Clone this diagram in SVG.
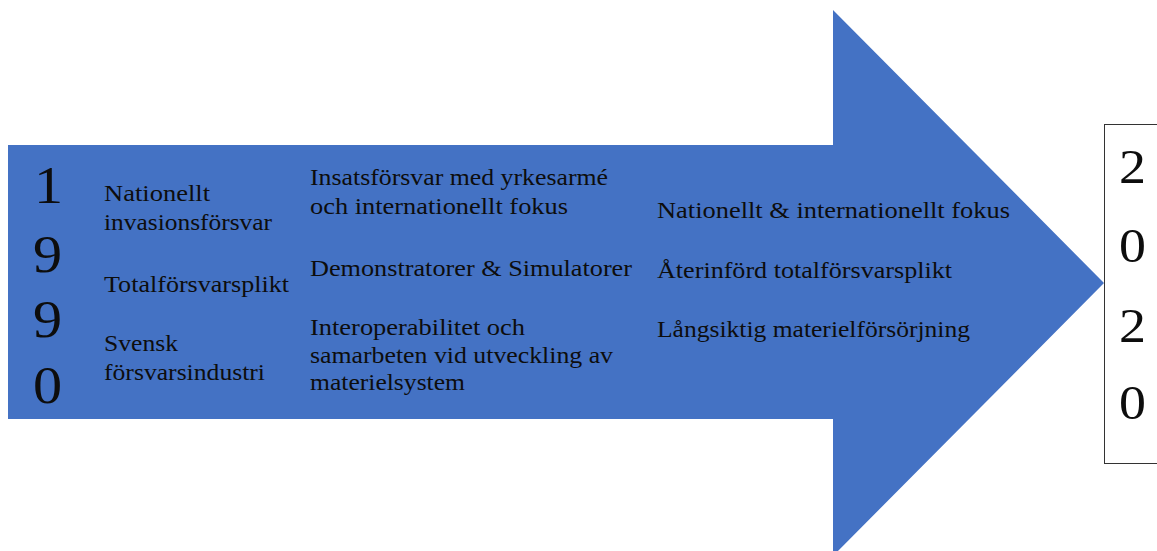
<svg xmlns="http://www.w3.org/2000/svg" width="1157" height="551" viewBox="0 0 1157 551">
  <style>
    .arrow { fill: #4472C4; }
    .yearbox { fill: #FFFFFF; stroke: #333333; stroke-width: 1; }
    .t { font-family: 'Liberation Serif', serif; font-size: 24px; fill: #0D0D0D; }
    .digit { font-family: 'Liberation Serif', serif; font-size: 52px; fill: #0D0D0D; }
    .digit2 { font-family: 'Liberation Serif', serif; font-size: 49px; fill: #0D0D0D; }
  </style>
  <rect width="1157" height="551" fill="#FFFFFF"/>

  <!-- timeline arrow -->
  <g id="arrow">
    <path class="arrow" d="M8,145 H833 V10 L1104,283 L833,556 V419 H8 Z"/>
  </g>

  <!-- start year, stacked vertically -->
  <g id="year-1990">
    <text class="digit" transform="translate(34,203) scale(1.12,1)">1</text>
    <text class="digit" transform="translate(33,272) scale(1.12,1)">9</text>
    <text class="digit" transform="translate(33,337) scale(1.12,1)">9</text>
    <text class="digit" transform="translate(33,403) scale(1.12,1)">0</text>
  </g>

  <!-- column 1 -->
  <g id="col-1990">
    <text class="t" x="104" y="201" textLength="106" lengthAdjust="spacingAndGlyphs">Nationellt</text>
    <text class="t" x="104" y="230" textLength="168" lengthAdjust="spacingAndGlyphs">invasionsförsvar</text>
    <text class="t" x="104" y="292" textLength="185" lengthAdjust="spacingAndGlyphs">Totalförsvarsplikt</text>
    <text class="t" x="104" y="351" textLength="74" lengthAdjust="spacingAndGlyphs">Svensk</text>
    <text class="t" x="104" y="380" textLength="161" lengthAdjust="spacingAndGlyphs">försvarsindustri</text>
  </g>

  <!-- column 2 -->
  <g id="col-mid">
    <text class="t" x="310" y="185" textLength="298" lengthAdjust="spacingAndGlyphs">Insatsförsvar med yrkesarmé</text>
    <text class="t" x="310" y="214" textLength="258" lengthAdjust="spacingAndGlyphs">och internationellt fokus</text>
    <text class="t" x="310" y="276" textLength="322" lengthAdjust="spacingAndGlyphs">Demonstratorer &amp; Simulatorer</text>
    <text class="t" x="310" y="335" textLength="215" lengthAdjust="spacingAndGlyphs">Interoperabilitet och</text>
    <text class="t" x="310" y="363" textLength="303" lengthAdjust="spacingAndGlyphs">samarbeten vid utveckling av</text>
    <text class="t" x="310" y="390" textLength="155" lengthAdjust="spacingAndGlyphs">materielsystem</text>
  </g>

  <!-- column 3 -->
  <g id="col-2020">
    <text class="t" x="657" y="218" textLength="353" lengthAdjust="spacingAndGlyphs">Nationellt &amp; internationellt fokus</text>
    <text class="t" x="657" y="278" textLength="295" lengthAdjust="spacingAndGlyphs">Återinförd totalförsvarsplikt</text>
    <text class="t" x="657" y="337" textLength="313" lengthAdjust="spacingAndGlyphs">Långsiktig materielförsörjning</text>
  </g>

  <!-- end year box -->
  <g id="year-2020">
    <rect class="yearbox" x="1104.5" y="124.5" width="80" height="339"/>
    <text class="digit2" transform="translate(1119,183) scale(1.1,1)">2</text>
    <text class="digit2" transform="translate(1119,262) scale(1.1,1)">0</text>
    <text class="digit2" transform="translate(1119,342) scale(1.1,1)">2</text>
    <text class="digit2" transform="translate(1119,419) scale(1.1,1)">0</text>
  </g>
</svg>
